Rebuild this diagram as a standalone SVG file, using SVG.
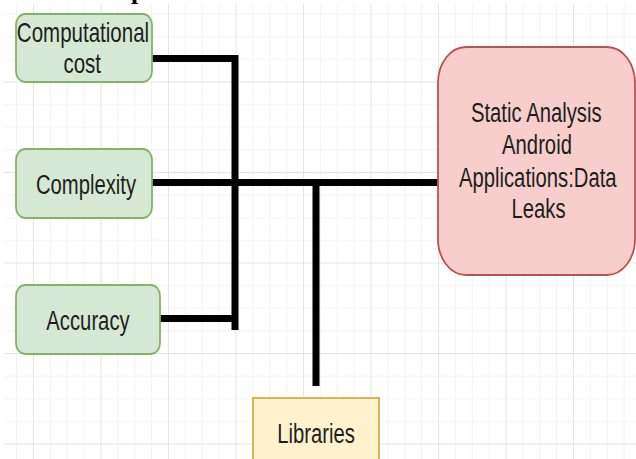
<svg xmlns="http://www.w3.org/2000/svg" width="636" height="459" viewBox="0 0 636 459">
<style>
.lbl{font-family:"Liberation Sans",Arial,sans-serif;font-size:27px;fill:#1e1e1e;text-anchor:middle}
.green{fill:#d5e8d4;stroke:#82b366;stroke-width:1.8}
.red{fill:#f8cecc;stroke:#b85450;stroke-width:1.8}
.yellow{fill:#fff2cc;stroke:#d6b656;stroke-width:2}
.conn{fill:none;stroke:#000;stroke-width:7;stroke-linejoin:miter;stroke-linecap:butt}
</style>
<defs>
<pattern id="grid" patternUnits="userSpaceOnUse" x="33" y="81.5" width="67.5" height="90.5">
<g stroke="#f3f3f3" stroke-width="1">
<line x1="17.4" y1="0" x2="17.4" y2="90.5"/>
<line x1="34.25" y1="0" x2="34.25" y2="90.5"/>
<line x1="51.1" y1="0" x2="51.1" y2="90.5"/>
<line x1="0" y1="23.1" x2="67.5" y2="23.1"/>
<line x1="0" y1="45.75" x2="67.5" y2="45.75"/>
<line x1="0" y1="68.4" x2="67.5" y2="68.4"/>
</g>
<g stroke="#e5e5e5" stroke-width="1">
<line x1="0.5" y1="0" x2="0.5" y2="90.5"/>
<line x1="0" y1="0.5" x2="67.5" y2="0.5"/>
</g>
</pattern>
</defs>
<rect width="636" height="459" fill="#fff"/>
<rect x="4" y="4" width="632" height="455" fill="url(#grid)"/>
<text x="131" y="-1" font-family="'Liberation Serif',serif" font-weight="bold" font-size="26" fill="#000">p</text>
<g id="connectors">
<path class="conn" d="M152,58.5 H235 V330"/>
<path class="conn" d="M160,318.5 H235"/>
<path class="conn" d="M152,182.5 H438"/>
<path class="conn" d="M316,182.5 V386"/>
</g>
<g id="node-computational-cost">
<rect class="green" x="16" y="14" width="136" height="68" rx="9" ry="11"/>
<g transform="translate(83,0) scale(0.76,1)">
<text class="lbl" x="0" y="42">Computational</text>
<text class="lbl" x="-1" y="73">cost</text>
</g>
</g>
<g id="node-complexity">
<rect class="green" x="16" y="149" width="136" height="69" rx="9" ry="11"/>
<text class="lbl" transform="translate(86,0) scale(0.75,1)" x="0" y="194">Complexity</text>
</g>
<g id="node-accuracy">
<rect class="green" x="16" y="285" width="144" height="69" rx="9" ry="11"/>
<text class="lbl" transform="translate(88,0) scale(0.75,1)" x="0" y="330">Accuracy</text>
</g>
<g id="node-static-analysis">
<rect class="red" x="438" y="47" width="197" height="228" rx="28" ry="36"/>
<g transform="translate(537,0) scale(0.75,1)">
<text class="lbl" x="-1" y="122">Static Analysis</text>
<text class="lbl" x="0" y="154">Android</text>
<text class="lbl" x="1" y="187">Applications:Data</text>
<text class="lbl" x="2" y="218">Leaks</text>
</g>
</g>
<g id="node-libraries">
<rect class="yellow" x="253" y="398" width="126" height="70"/>
<text class="lbl" transform="translate(316,0) scale(0.75,1)" x="0" y="443">Libraries</text>
</g>
</svg>
